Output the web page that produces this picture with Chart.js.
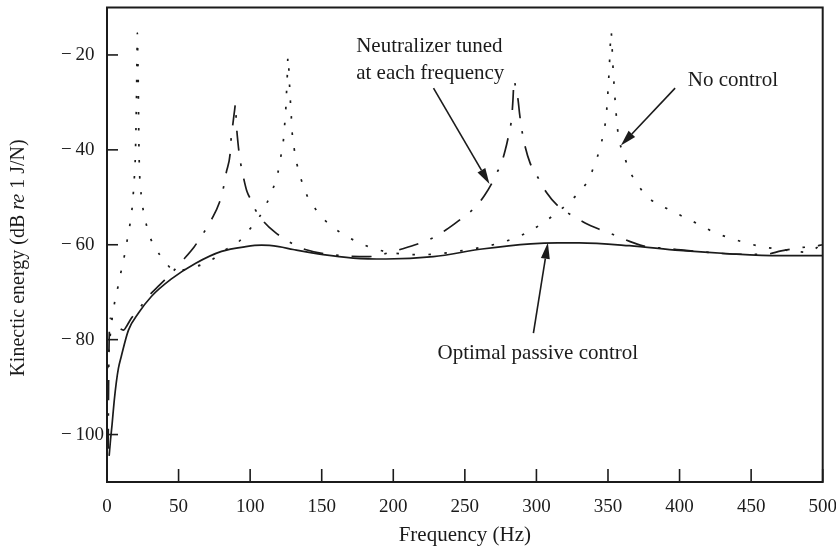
<!DOCTYPE html>
<html>
<head>
<meta charset="utf-8">
<script src="https://cdn.jsdelivr.net/npm/chart.js@4.4.1/dist/chart.umd.min.js"></script>
<style>
  html, body { margin: 0; padding: 0; background: #ffffff; }
  #c { display: block; }
</style>
</head>
<body>
<canvas id="c" width="836" height="554"></canvas>
<script>
// ---------------- data ----------------
const xTicks = [0, 50, 100, 150, 200, 250, 300, 350, 400, 450, 500];
const yTicks = [-100, -80, -60, -40, -20];

// No control (dotted)
const ncFreq = [0.5, 2.3, 5.3, 7.7, 10, 12.3, 14.4, 16.3, 17.7, 18.6, 19.3, 19.8, 20.2, 20.6, 20.9, 21.2, 21.5, 21.8, 22.0, 22.3, 22.7, 23.3, 24.4, 26.3, 29, 33.7, 40.7, 46, 52, 62, 72, 82.6, 91.5, 98.9, 105.9, 111.7, 116.3, 119.4, 121.5, 123.3, 124.2, 125, 125.5, 126, 126.4, 126.9, 127.4, 128, 128.7, 129.3, 130.6, 132.7, 135.7, 139.7, 146, 153.1, 162.4, 172.2, 182.7, 193.9, 204.8, 216.5, 228, 240, 251, 262, 272.3, 283, 293.7, 304, 314, 322, 329.3, 336.3, 341, 344.5, 346.8, 348.7, 349.6, 350.3, 351, 351.5, 352.2, 352.8, 353.4, 354.5, 355.2, 356.1, 357.3, 360.8, 364.3, 370.1, 377.1, 390, 400, 414, 423.6, 435.3, 446.4, 457.4, 469, 480.7, 490, 496, 500];
const ncDb = [-86, -79, -72.2, -68.8, -65.4, -62.1, -58.5, -55.2, -51.8, -48.2, -44.8, -41.4, -36, -29, -22, -15.4, -20, -25, -31, -39, -44.5, -47.4, -50.9, -54.1, -57.5, -60.6, -63.6, -65.2, -65.3, -64.6, -63.4, -61.1, -59.5, -57, -54.4, -51.2, -47.9, -44.8, -41.3, -37.8, -34.4, -30.9, -27.4, -24, -20.4, -22.1, -25.5, -29.1, -32.6, -36.1, -39.4, -43, -46.3, -49.6, -52.6, -55.1, -57.3, -59, -60.4, -61.4, -61.9, -62.1, -62, -61.6, -61.1, -60.5, -59.8, -58.8, -57.4, -55.5, -53.3, -51.3, -49.1, -46.3, -42.8, -39.6, -36.5, -33, -29.5, -26, -22.1, -18.6, -15.1, -18, -22, -27.4, -30.5, -33.7, -37.2, -40.7, -43.9, -47, -49.8, -52.2, -53.7, -55.8, -57.3, -58.6, -59.6, -60.4, -60.9, -61.4, -61.6, -60.6, -59.8];

// Neutralizer tuned at each frequency (long dash - dot)
const ntFreq = [0.8, 1.1, 1.5, 2.3, 4, 6, 9, 11.5, 14, 17, 22, 28, 37, 45, 52, 61, 67.5, 73, 78.4, 81.4, 83.3, 86.1, 86.8, 88, 89.2, 89.8, 90.3, 91.5, 93.3, 95.2, 97.8, 101.5, 103.6, 109.4, 117.5, 129, 138.5, 160, 183, 196.6, 206, 216.5, 229.3, 238.1, 246.7, 257.2, 263.7, 268.9, 272, 275.1, 278.1, 280.4, 282.8, 283.6, 284.4, 285.3, 287.2, 288.2, 289.8, 292.1, 295.6, 301.4, 307.3, 314.3, 322, 334, 344.5, 354, 368, 377, 388, 398, 420, 440, 460, 471, 485, 493, 500];
const ntDb = [-103, -90, -80, -75.5, -75.8, -76.6, -77.6, -78, -77, -75.5, -73.7, -71.2, -68.4, -66, -63.6, -60.4, -57.5, -54.7, -51.2, -47.9, -44.8, -40.6, -37.3, -34.4, -31.5, -30.3, -34, -38.5, -42.7, -45.6, -48.8, -51, -52.6, -55.1, -57.4, -59.7, -61, -62.2, -62.5, -61.7, -60.9, -59.9, -58.3, -56.6, -54.7, -52.1, -49.6, -47, -45, -43.2, -40.2, -37.2, -33, -29.5, -25.3, -26.5, -29.5, -32.3, -35.8, -39.3, -42.8, -46, -49.1, -51.6, -53.3, -55.4, -56.8, -57.9, -59.6, -60.4, -60.7, -61, -61.6, -62, -62, -61.3, -60.6, -60.4, -60];

// Optimal passive control (solid)
const opFreq = [1.5, 2.5, 3.5, 5, 6.5, 8, 10, 15, 22, 31, 45, 62, 80, 97, 108, 120, 130, 151, 172, 195, 228, 262, 296, 315, 330, 365, 400, 435, 470, 500];
const opDb = [-104.5, -101, -98, -93, -89, -86, -83.5, -78, -74.4, -70.9, -67.2, -63.9, -61.4, -60.4, -60.1, -60.4, -61, -62.1, -62.8, -63, -62.5, -60.9, -59.8, -59.6, -59.6, -60.2, -61.2, -61.9, -62.3, -62.3];

// ---------------- styling / annotations ----------------
const INK = '#1b1b1b';
const SERIF = '"Liberation Serif", "Times New Roman", Times, serif';

// annotation texts and arrows, anchored in data units
const notes = [
  { lines: ['Neutralizer tuned', 'at each frequency'], x: 174.1, y: [-18.3, -24.0],
    arrow: { from: [228.1, -27.0], to: [267.2, -47.2] } },
  { lines: ['No control'], x: 405.7, y: [-25.3],
    arrow: { from: [396.9, -27.0], to: [359.0, -39.1] } },
  { lines: ['Optimal passive control'], x: 230.9, y: [-82.9],
    arrow: { from: [297.9, -78.6], to: [308.0, -59.6] } }
];

function pts(xs, ys) { return xs.map((x, i) => ({ x: x, y: ys[i] })); }

const framePlugin = {
  id: 'frame',
  afterDraw(chart) {
    const { ctx, chartArea: a, scales } = chart;
    const xs = scales.x, ys = scales.y;
    ctx.save();
    // box
    ctx.strokeStyle = INK;
    ctx.lineWidth = 2;
    ctx.strokeRect(a.left, a.top, a.right - a.left, a.bottom - a.top);
    // inward tick marks
    ctx.lineWidth = 1.6;
    xs.ticks.forEach(t => {
      const px = xs.getPixelForValue(t.value);
      ctx.beginPath(); ctx.moveTo(px, a.bottom); ctx.lineTo(px, a.bottom - 13); ctx.stroke();
    });
    ys.ticks.forEach(t => {
      const py = ys.getPixelForValue(t.value);
      ctx.beginPath(); ctx.moveTo(a.left, py); ctx.lineTo(a.left + 11, py); ctx.stroke();
    });

    // annotations
    ctx.fillStyle = INK;
    ctx.font = '21px ' + SERIF;
    ctx.textAlign = 'left';
    ctx.textBaseline = 'middle';
    notes.forEach(n => {
      n.lines.forEach((s, i) => {
        ctx.fillText(s, xs.getPixelForValue(n.x), ys.getPixelForValue(n.y[i]));
      });
      const x0 = xs.getPixelForValue(n.arrow.from[0]), y0 = ys.getPixelForValue(n.arrow.from[1]);
      const x1 = xs.getPixelForValue(n.arrow.to[0]), y1 = ys.getPixelForValue(n.arrow.to[1]);
      const ang = Math.atan2(y1 - y0, x1 - x0);
      const hl = 16, hw = 4.5;
      const bx = x1 - hl * Math.cos(ang), by = y1 - hl * Math.sin(ang);
      ctx.lineWidth = 1.6;
      ctx.beginPath(); ctx.moveTo(x0, y0); ctx.lineTo(bx, by); ctx.stroke();
      ctx.beginPath();
      ctx.moveTo(x1, y1);
      ctx.lineTo(bx + hw * Math.sin(ang), by - hw * Math.cos(ang));
      ctx.lineTo(bx - hw * Math.sin(ang), by + hw * Math.cos(ang));
      ctx.closePath(); ctx.fill();
    });

    // y axis title with italic "re"
    const segs = [
      { t: 'Kinectic energy (dB ', f: '20px ' + SERIF },
      { t: 're', f: 'italic 20px ' + SERIF },
      { t: ' 1 J/N)', f: '20px ' + SERIF }
    ];
    let total = 0;
    segs.forEach(s => { ctx.font = s.f; s.w = ctx.measureText(s.t).width; total += s.w; });
    ctx.translate(19, 258);
    ctx.rotate(-Math.PI / 2);
    let cx = -total / 2;
    segs.forEach(s => { ctx.font = s.f; ctx.fillText(s.t, cx, 0); cx += s.w; });
    ctx.restore();
  }
};

const common = { borderColor: INK, borderWidth: 1.7, pointRadius: 0, fill: false, cubicInterpolationMode: 'monotone' };

new Chart(document.getElementById('c'), {
  type: 'line',
  data: {
    datasets: [
      Object.assign({ label: 'No control', data: pts(ncFreq, ncDb), borderDash: [2.5, 13.5] }, common),
      Object.assign({ label: 'Neutralizer tuned at each frequency', data: pts(ntFreq, ntDb), borderDash: [20, 13, 2.5, 13] }, common),
      Object.assign({ label: 'Optimal passive control', data: pts(opFreq, opDb), borderDash: [] }, common)
    ]
  },
  options: {
    responsive: false,
    animation: false,
    devicePixelRatio: 1,
    layout: { padding: { left: 61, right: 13.3, top: 7.5, bottom: 0 } },
    plugins: { legend: { display: false }, tooltip: { enabled: false } },
    scales: {
      x: {
        type: 'linear', min: 0, max: 500,
        grid: { display: false, drawTicks: false },
        border: { display: false },
        ticks: { autoSkip: false, maxRotation: 0, padding: 14, color: INK, font: { family: SERIF, size: 19 } },
        title: { display: true, text: 'Frequency (Hz)', color: INK, font: { family: SERIF, size: 21 }, padding: { top: 0, bottom: 6 } },
        afterBuildTicks: s => { s.ticks = xTicks.map(v => ({ value: v })); },
        afterFit: s => { s.height = 72; s.paddingLeft = 0; s.paddingRight = 0; }
      },
      y: {
        type: 'linear', min: -110, max: -10,
        grid: { display: false, drawTicks: false },
        border: { display: false },
        ticks: { autoSkip: false, crossAlign: 'far', padding: 0, color: INK, font: { family: SERIF, size: 19 },
                 callback: v => '\u2212\u2009' + Math.abs(v) },
        afterBuildTicks: s => { s.ticks = yTicks.map(v => ({ value: v })); },
        afterFit: s => { s.width = 46; s.paddingTop = 0; s.paddingBottom = 0; }
      }
    }
  },
  plugins: [framePlugin]
});
</script>
</body>
</html>
